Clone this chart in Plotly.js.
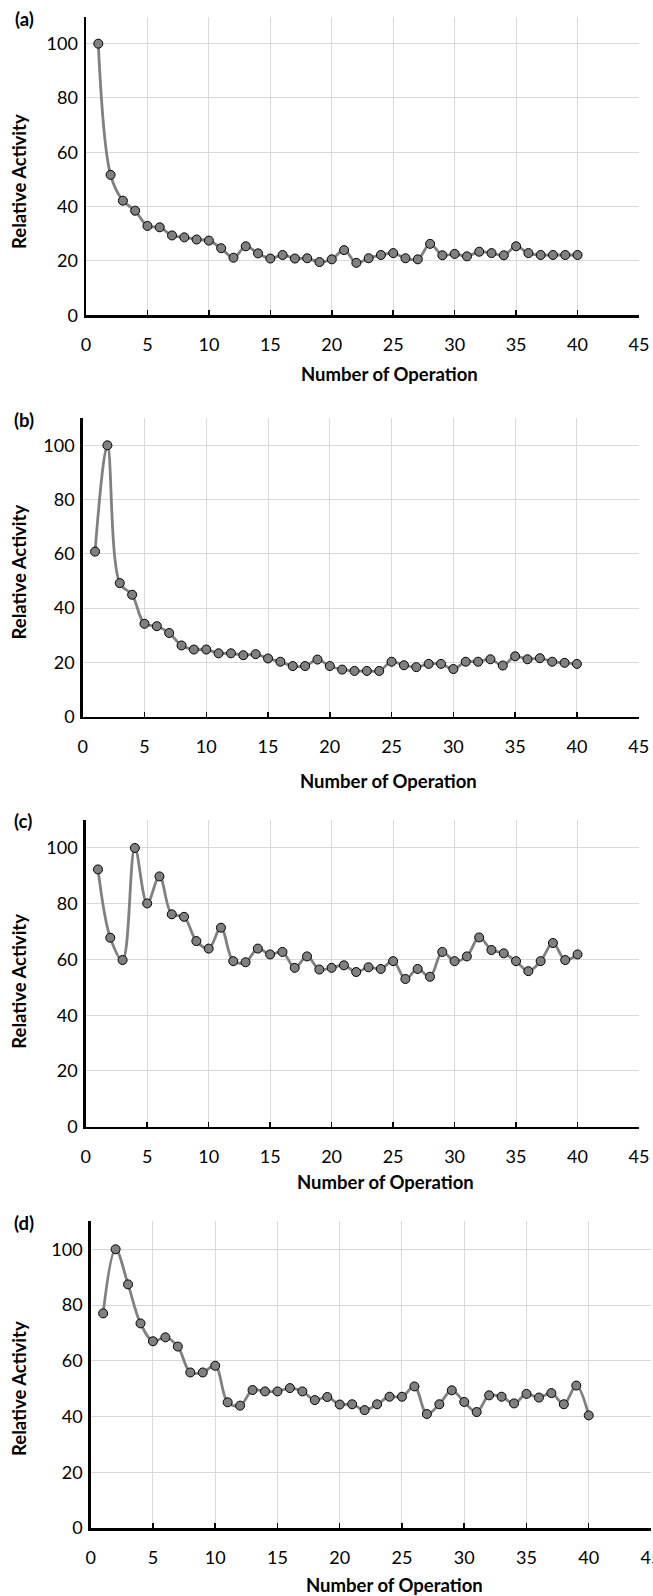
<!DOCTYPE html>
<html>
<head>
<meta charset="utf-8">
<script src="https://cdn.plot.ly/plotly-3.0.1.min.js"></script>
<style>html,body{margin:0;padding:0;background:#fff;}#chart{width:653px;height:1596px;}</style>
</head>
<body>
<div id="chart"></div>
<script>
// Number of operation (x values)
const operations = [1,2,3,4,5,6,7,8,9,10,11,12,13,14,15,16,17,18,19,20,21,22,23,24,25,26,27,28,29,30,31,32,33,34,35,36,37,38,39,40];

// Relative activity for each panel
const activityA = [100,51.7,42.2,38.5,32.9,32.4,29.4,28.7,27.9,27.5,
                   24.7,21.2,25.4,22.8,20.9,22.2,20.9,21.0,19.6,20.6,
                   24.0,19.3,21.0,22.2,22.9,21.0,20.6,26.3,22.1,22.6,
                   21.7,23.4,22.9,22.1,25.4,22.9,22.2,22.2,22.2,22.2];
const activityB = [60.8,100,49.2,44.9,34.2,33.3,30.8,26.2,24.7,24.7,
                   23.3,23.3,22.6,23.0,21.4,20.2,18.6,18.6,21.0,18.6,
                   17.3,16.8,16.8,16.8,20.2,18.9,18.2,19.4,19.4,17.5,
                   20.2,20.2,21.1,18.8,22.2,21.1,21.5,20.2,19.8,19.4];
const activityC = [92.3,67.8,59.8,100,80.1,89.8,76.2,75.3,66.6,63.9,
                   71.4,59.4,59.0,63.9,61.8,62.7,57.0,61.1,56.4,57.0,
                   57.9,55.5,57.2,56.6,59.4,53.0,56.6,53.8,62.7,59.4,
                   61.1,67.9,63.4,62.2,59.4,55.8,59.4,65.9,59.8,61.8];
const activityD = [77.0,100,87.4,73.4,67.0,68.4,65.1,55.8,55.8,58.2,
                   45.1,43.9,49.5,49.0,49.0,50.2,49.0,45.9,47.0,44.3,
                   44.4,42.3,44.4,47.1,47.1,50.8,40.9,44.4,49.4,45.2,
                   41.6,47.6,47.1,44.7,48.1,46.8,48.4,44.4,51.1,40.4];

const panelLabels = ["(a)","(b)","(c)","(d)"];
const xTitle = "Number of Operation";
const yTitle = "Relative Activity";
const xTickVals = [0,5,10,15,20,25,30,35,40,45];
const yTickVals = [0,20,40,60,80,100];

const W = 653, H = 1596;
const FONT = "Lato, 'Open Sans', sans-serif";

// pixel geometry of each panel: [left, right, top, bottom]
const boxes = [
  [86, 639, 16.5, 315.3],
  [82.7, 638.7, 418.2, 716.5],
  [85.7, 639, 820.1, 1126.7],
  [90.7, 651, 1221.4, 1528]
];
const xTitlePos = [[389,373.5],[388,780.7],[386,1181.8],[394,1585]];
const yTitleY = [182, 572.5, 981.7, 1389];
const labelPos = [[24,19],[24,420],[23,821],[24,1223]];

const series = [activityA, activityB, activityC, activityD];
const traces = [];
const layout = {
  width: W, height: H,
  margin: {l:0, r:0, t:0, b:0},
  paper_bgcolor: "#fff", plot_bgcolor: "#fff",
  showlegend: false,
  font: {family: FONT, color: "#000"},
  annotations: []
};

series.forEach((vals, i) => {
  const n = i === 0 ? "" : String(i+1);
  traces.push({
    type: "scatter", mode: "lines+markers",
    x: operations, y: vals,
    xaxis: "x"+n, yaxis: "y"+n,
    line: {color: "#808080", width: 2.8, shape: "spline", smoothing: 1},
    marker: {symbol: "circle", size: 9, color: "#808080", line: {color: "#000", width: 1}},
    hoverinfo: "skip", cliponaxis: false
  });
  const b = boxes[i];
  layout["xaxis"+n] = {
    domain: [b[0]/W, b[1]/W],
    anchor: "y"+n,
    range: [0,45], tickvals: xTickVals,
    showgrid: true, gridcolor: "#d9d9d9", gridwidth: 1,
    showline: true, linecolor: "#000", linewidth: 2.5,
    ticks: "inside", ticklen: 5, tickwidth: 1.5, tickcolor: "#000",
    zeroline: false,
    tickfont: {family: FONT, size: 18, color: "#000"},
    ticklabelstandoff: 12,
    ticklabeloverflow: "allow",
    fixedrange: true
  };
  layout["yaxis"+n] = {
    domain: [1 - b[3]/H, 1 - b[2]/H],
    anchor: "x"+n,
    range: [0,110], tickvals: yTickVals,
    showgrid: true, gridcolor: "#d9d9d9", gridwidth: 1,
    showline: true, linecolor: "#000", linewidth: 2.5,
    ticks: "", zeroline: false,
    tickfont: {family: FONT, size: 18, color: "#000"},
    ticklabelstandoff: 2,
    fixedrange: true
  };
  layout.annotations.push({
    text: "<b>"+xTitle+"</b>", xref: "paper", yref: "paper",
    x: xTitlePos[i][0]/W, y: 1 - xTitlePos[i][1]/H,
    xanchor: "center", yanchor: "middle", showarrow: false,
    font: {family: FONT, size: 18.5, color: "#000"}
  });
  layout.annotations.push({
    text: "<b>"+yTitle+"</b>", xref: "paper", yref: "paper",
    x: 19/W, y: 1 - yTitleY[i]/H, textangle: -90,
    xanchor: "center", yanchor: "middle", showarrow: false,
    font: {family: FONT, size: 18.5, color: "#000"}
  });
  layout.annotations.push({
    text: "<b>"+panelLabels[i]+"</b>", xref: "paper", yref: "paper",
    x: labelPos[i][0]/W, y: 1 - labelPos[i][1]/H,
    xanchor: "center", yanchor: "middle", showarrow: false,
    font: {family: FONT, size: 18.5, color: "#000"}
  });
});

Plotly.newPlot("chart", traces, layout, {staticPlot: true, displayModeBar: false});
</script>
</body>
</html>
